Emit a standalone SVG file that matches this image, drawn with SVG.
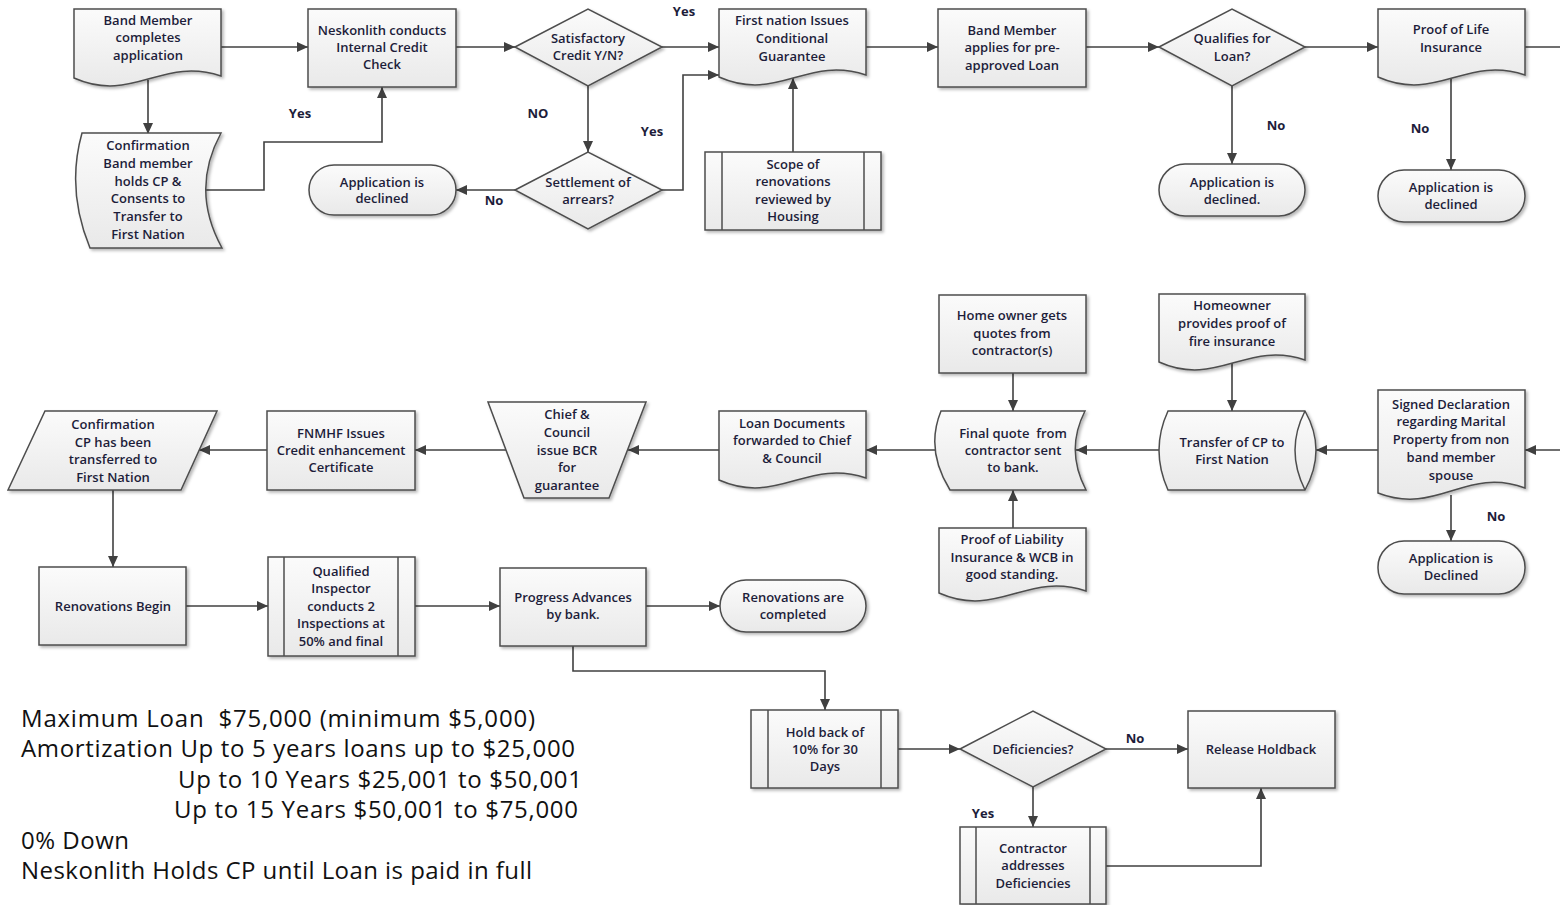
<svg xmlns="http://www.w3.org/2000/svg" width="1560" height="905" viewBox="0 0 1560 905">
<defs>
<linearGradient id="g" x1="0" y1="0" x2="0" y2="1"><stop offset="0" stop-color="#fbfbfb"/><stop offset="1" stop-color="#e9e9e9"/></linearGradient>
<filter id="sh" x="-10%" y="-10%" width="130%" height="130%"><feDropShadow dx="2" dy="2" stdDeviation="1.5" flood-color="#000" flood-opacity="0.28"/></filter>
<marker id="a" markerUnits="userSpaceOnUse" markerWidth="11" markerHeight="10" refX="11" refY="5" orient="auto"><path d="M0,0 L11,5 L0,10 Z" fill="#404040"/></marker>
</defs>
<style>
.n{fill:url(#g);stroke:#4d4d4d;stroke-width:1.5;filter:url(#sh)}
.s{fill:none;stroke:#4d4d4d;stroke-width:1.5}
.t{font-family:"Open Sans","Liberation Sans",sans-serif;font-size:13px;font-weight:600;fill:#1d1d3a;text-anchor:middle;dominant-baseline:central}
.l{font-family:"Open Sans","Liberation Sans",sans-serif;font-size:13px;font-weight:700;fill:#1d1d3a;text-anchor:middle;dominant-baseline:central}
.c{fill:none;stroke:#404040;stroke-width:1.6;marker-end:url(#a)}
.p{fill:none;stroke:#404040;stroke-width:1.6}
.b{font-family:"Open Sans","Liberation Sans",sans-serif;font-size:24px;fill:#111;dominant-baseline:central;white-space:pre}
</style>
<rect width="1560" height="905" fill="#fff"/>

<g id="connectors">
<path class="c" d="M221,47 H308"/>
<path class="c" d="M456,47 H515"/>
<path class="c" d="M662,47 H719"/>
<path class="c" d="M866,47 H938"/>
<path class="c" d="M1086,47 H1159"/>
<path class="c" d="M1305,47 H1378"/>
<path class="p" d="M1525,47 H1560"/>
<path class="c" d="M148,80 V134"/>
<path class="c" d="M206,190 H264 V142 H382 V87"/>
<path class="c" d="M588,86 V152"/>
<path class="c" d="M662,190 H683 V75 H719"/>
<path class="c" d="M515,190 H456"/>
<path class="c" d="M793,152 V78"/>
<path class="c" d="M1232,86 V164"/>
<path class="c" d="M1451,79 V170"/>
<path class="c" d="M1560,450 H1525"/>
<path class="c" d="M1378,450 H1316"/>
<path class="c" d="M1159,450 H1076"/>
<path class="c" d="M936,450 H866"/>
<path class="c" d="M719,450 H628"/>
<path class="c" d="M506,450 H415"/>
<path class="c" d="M267,450 H199"/>
<path class="c" d="M1013,373 V411"/>
<path class="c" d="M1232,363 V411"/>
<path class="c" d="M1013,528 V490"/>
<path class="c" d="M1451,495 V541"/>
<path class="c" d="M113,490 V567"/>
<path class="c" d="M186,606 H268"/>
<path class="c" d="M415,606 H500"/>
<path class="c" d="M646,606 H720"/>
<path class="c" d="M573,646 V671 H825 V710"/>
<path class="c" d="M898,749 H960"/>
<path class="c" d="M1106,749 H1188"/>
<path class="c" d="M1033,787 V827"/>
<path class="c" d="M1106,866 H1261 V788"/>
<text class="l" x="684" y="11">Yes</text>
<text class="l" x="300" y="113">Yes</text>
<text class="l" x="538" y="113">NO</text>
<text class="l" x="652" y="131">Yes</text>
<text class="l" x="494" y="200">No</text>
<text class="l" x="1276" y="125">No</text>
<text class="l" x="1420" y="128">No</text>
<text class="l" x="1496" y="516">No</text>
<text class="l" x="1135" y="738">No</text>
<text class="l" x="983" y="813">Yes</text>
</g>

<g id="band-member-completes">
<path class="n" d="M74,9 H221 V76 C162,56 133,104 74,78 Z"/>
<text class="t" x="148" y="20">Band Member</text><text class="t" x="148" y="37">completes</text><text class="t" x="148" y="55">application</text>
</g>
<g id="credit-check">
<rect class="n" x="308" y="9" width="148" height="78"/>
<text class="t" x="382" y="30">Neskonlith conducts</text><text class="t" x="382" y="47">Internal Credit</text><text class="t" x="382" y="64">Check</text>
</g>
<g id="satisfactory-credit">
<path class="n" d="M515,47 L588,9 L662,47 L588,86 Z"/>
<text class="t" x="588" y="38">Satisfactory</text><text class="t" x="588" y="55">Credit Y/N?</text>
</g>
<g id="conditional-guarantee">
<path class="n" d="M719,9 H866 V75 C807,55 778,103 719,77 Z"/>
<text class="t" x="792" y="20">First nation Issues</text><text class="t" x="792" y="38">Conditional</text><text class="t" x="792" y="56">Guarantee</text>
</g>
<g id="applies-loan">
<rect class="n" x="938" y="9" width="148" height="78"/>
<text class="t" x="1012" y="30">Band Member</text><text class="t" x="1012" y="47">applies for pre-</text><text class="t" x="1012" y="65">approved Loan</text>
</g>
<g id="qualifies">
<path class="n" d="M1159,47 L1232,9 L1305,47 L1232,86 Z"/>
<text class="t" x="1232" y="38">Qualifies for</text><text class="t" x="1232" y="56">Loan?</text>
</g>
<g id="proof-life">
<path class="n" d="M1378,9 H1525 V75 C1466,55 1437,103 1378,77 Z"/>
<text class="t" x="1451" y="29">Proof of Life</text><text class="t" x="1451" y="47">Insurance</text>
</g>
<g id="confirmation-holds-cp">
<path class="n" d="M82,133 H221 Q190,190 222,248 H90 Q66,190 82,133 Z"/>
<text class="t" x="148" y="145">Confirmation</text><text class="t" x="148" y="163">Band member</text><text class="t" x="148" y="181">holds CP &amp;</text><text class="t" x="148" y="198">Consents to</text><text class="t" x="148" y="216">Transfer to</text><text class="t" x="148" y="234">First Nation</text>
</g>
<g id="declined-1">
<rect class="n" x="309" y="165" width="147" height="50" rx="25"/>
<text class="t" x="382" y="182">Application is</text><text class="t" x="382" y="198">declined</text>
</g>
<g id="settlement">
<path class="n" d="M515,190 L588,152 L662,190 L588,229 Z"/>
<text class="t" x="588" y="182">Settlement of</text><text class="t" x="588" y="199">arrears?</text>
</g>
<g id="scope">
<rect class="n" x="705" y="152" width="176" height="78"/>
<path class="s" d="M722,152 V230 M864,152 V230"/>
<text class="t" x="793" y="164">Scope of</text><text class="t" x="793" y="181">renovations</text><text class="t" x="793" y="199">reviewed by</text><text class="t" x="793" y="216">Housing</text>
</g>
<g id="declined-2">
<rect class="n" x="1159" y="164" width="146" height="52" rx="26"/>
<text class="t" x="1232" y="182">Application is</text><text class="t" x="1232" y="199">declined.</text>
</g>
<g id="declined-3">
<rect class="n" x="1378" y="170" width="147" height="52" rx="26"/>
<text class="t" x="1451" y="187">Application is</text><text class="t" x="1451" y="204">declined</text>
</g>

<g id="home-owner-quotes">
<rect class="n" x="939" y="295" width="147" height="78"/>
<text class="t" x="1012" y="315">Home owner gets</text><text class="t" x="1012" y="333">quotes from</text><text class="t" x="1012" y="350">contractor(s)</text>
</g>
<g id="fire-insurance">
<path class="n" d="M1159,294 H1305 V360 C1247,340 1217,388 1159,362 Z"/>
<text class="t" x="1232" y="305">Homeowner</text><text class="t" x="1232" y="323">provides proof of</text><text class="t" x="1232" y="341">fire insurance</text>
</g>
<g id="signed-declaration">
<path class="n" d="M1378,390 H1525 V488 C1466,466 1437,516 1378,493 Z"/>
<text class="t" x="1451" y="404">Signed Declaration</text><text class="t" x="1451" y="421">regarding Marital</text><text class="t" x="1451" y="439">Property from non</text><text class="t" x="1451" y="457">band member</text><text class="t" x="1451" y="475">spouse</text>
</g>
<g id="transfer-cp">
<path class="n" d="M1168,411 H1305 Q1327,450 1305,490 H1168 Q1150,450 1168,411 Z"/>
<path class="s" d="M1305,411 Q1285,450 1305,490"/>
<text class="t" x="1232" y="442">Transfer of CP to</text><text class="t" x="1232" y="459">First Nation</text>
</g>
<g id="final-quote">
<path class="n" d="M941,411 H1085 Q1065,450 1086,490 H950 Q925,450 941,411 Z"/>
<text class="t" x="1013" y="433" xml:space="preserve">Final quote  from</text><text class="t" x="1013" y="450">contractor sent</text><text class="t" x="1013" y="467">to bank.</text>
</g>
<g id="liability">
<path class="n" d="M939,528 H1086 V591 C1027,571 998,619 939,593 Z"/>
<text class="t" x="1012" y="539">Proof of Liability</text><text class="t" x="1012" y="557">Insurance &amp; WCB in</text><text class="t" x="1012" y="574">good standing.</text>
</g>
<g id="declined-4">
<rect class="n" x="1378" y="541" width="147" height="53" rx="26"/>
<text class="t" x="1451" y="558">Application is</text><text class="t" x="1451" y="575">Declined</text>
</g>
<g id="loan-documents">
<path class="n" d="M719,411 H866 V478 C807,458 778,506 719,480 Z"/>
<text class="t" x="792" y="423">Loan Documents</text><text class="t" x="792" y="440">forwarded to Chief</text><text class="t" x="792" y="458">&amp; Council</text>
</g>
<g id="chief-council">
<path class="n" d="M488,402 H646 L609,498 H524 Z"/>
<text class="t" x="567" y="414">Chief &amp;</text><text class="t" x="567" y="432">Council</text><text class="t" x="567" y="450">issue BCR</text><text class="t" x="567" y="467">for</text><text class="t" x="567" y="485">guarantee</text>
</g>
<g id="fnmhf">
<rect class="n" x="267" y="411" width="148" height="79"/>
<text class="t" x="341" y="433">FNMHF Issues</text><text class="t" x="341" y="450">Credit enhancement</text><text class="t" x="341" y="467">Certificate</text>
</g>
<g id="confirmation-transferred">
<path class="n" d="M45,411 H217 L181,490 H8 Z"/>
<text class="t" x="113" y="424">Confirmation</text><text class="t" x="113" y="442">CP has been</text><text class="t" x="113" y="459">transferred to</text><text class="t" x="113" y="477">First Nation</text>
</g>

<g id="renovations-begin">
<rect class="n" x="39" y="567" width="147" height="78"/>
<text class="t" x="113" y="606">Renovations Begin</text>
</g>
<g id="inspector">
<rect class="n" x="268" y="557" width="147" height="99"/>
<path class="s" d="M284,557 V656 M398,557 V656"/>
<text class="t" x="341" y="571">Qualified</text><text class="t" x="341" y="588">Inspector</text><text class="t" x="341" y="606">conducts 2</text><text class="t" x="341" y="623">Inspections at</text><text class="t" x="341" y="641">50% and final</text>
</g>
<g id="progress-advances">
<rect class="n" x="500" y="568" width="146" height="78"/>
<text class="t" x="573" y="597">Progress Advances</text><text class="t" x="573" y="614">by bank.</text>
</g>
<g id="renovations-completed">
<rect class="n" x="720" y="580" width="146" height="52" rx="26"/>
<text class="t" x="793" y="597">Renovations are</text><text class="t" x="793" y="614">completed</text>
</g>
<g id="hold-back">
<rect class="n" x="751" y="710" width="147" height="78"/>
<path class="s" d="M768,710 V788 M881,710 V788"/>
<text class="t" x="825" y="732">Hold back of</text><text class="t" x="825" y="749">10% for 30</text><text class="t" x="825" y="766">Days</text>
</g>
<g id="deficiencies">
<path class="n" d="M960,749 L1033,711 L1106,749 L1033,787 Z"/>
<text class="t" x="1033" y="749">Deficiencies?</text>
</g>
<g id="release-holdback">
<rect class="n" x="1188" y="711" width="147" height="77"/>
<text class="t" x="1261" y="749">Release Holdback</text>
</g>
<g id="contractor-addresses">
<rect class="n" x="960" y="827" width="146" height="77"/>
<path class="s" d="M976,827 V904 M1090,827 V904"/>
<text class="t" x="1033" y="848">Contractor</text><text class="t" x="1033" y="865">addresses</text><text class="t" x="1033" y="883">Deficiencies</text>
</g>

<g id="notes">
<text class="b" x="21" y="717" textLength="514" xml:space="preserve">Maximum Loan  $75,000 (minimum $5,000)</text>
<text class="b" x="21" y="747" textLength="554">Amortization Up to 5 years loans up to $25,000</text>
<text class="b" x="178" y="778" textLength="404">Up to 10 Years $25,001 to $50,001</text>
<text class="b" x="174" y="808" textLength="404">Up to 15 Years $50,001 to $75,000</text>
<text class="b" x="21" y="839" textLength="108">0% Down</text>
<text class="b" x="21" y="869" textLength="511">Neskonlith Holds CP until Loan is paid in full</text>
</g>
</svg>
